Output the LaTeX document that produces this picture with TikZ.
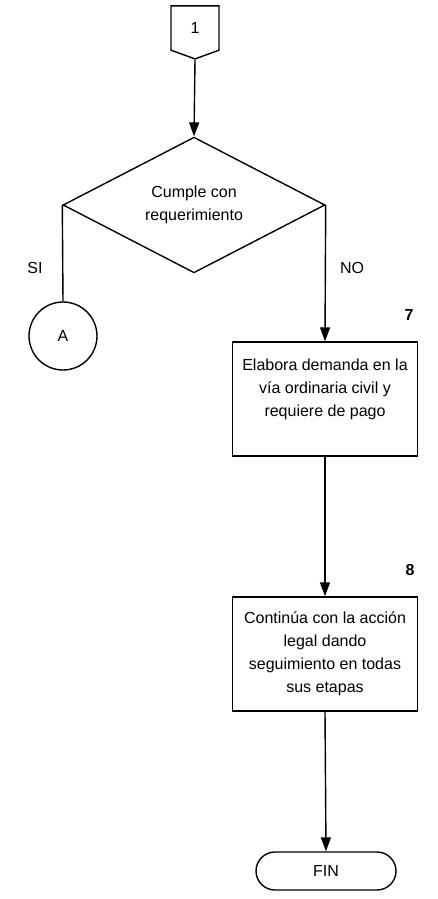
\documentclass[tikz,border=0pt]{standalone}
\usepackage{fontspec}
\setmainfont{Liberation Sans}
\usetikzlibrary{shapes.geometric,shapes.misc,shapes.symbols,arrows.meta}

\begin{document}
\begin{tikzpicture}[x=1pt,y=-1pt,
            every node/.style={font=\fontsize{16}{23}\selectfont},
            linea/.style={line width=1.4pt},
            flecha/.style={linea,-{Triangle[width=10pt,length=14pt]}},
            caja/.style={draw,linea,minimum width=185pt,minimum height=114pt,
                    align=center,inner sep=0pt},
            conector/.style={draw,linea,signal,signal to=south,signal pointer angle=140,
                    minimum width=48pt,minimum height=46pt,inner sep=0pt},
            decision/.style={draw,linea,diamond,minimum width=262pt,minimum height=114pt,
                    align=center,inner sep=0pt},
            circulo/.style={draw,linea,circle,minimum size=68pt,inner sep=0pt},
            terminal/.style={draw,linea,rounded rectangle,minimum width=140pt,
                    minimum height=38pt,inner sep=0pt},
            numero/.style={font=\fontsize{16}{19}\selectfont\bfseries}]
        \useasboundingbox (0,0) rectangle (437,899);
        \node[conector] (c1) at (195,28) {1};
        \node[decision] (cumple) at (194,205) {Cumple con\\requerimiento};
        \node (si) at (35,268) {SI};
        \node (no) at (352,268) {NO};
        \node[circulo] (a) at (63,336) {A};
        \node[numero] (n7) at (409,315) {7};
        \node[caja] (demanda) at (325,399) {Elabora demanda en la\\v\'ia ordinaria civil y\\requiere de pago\\ };
        \node[numero] (n8) at (410,570) {8};
        \node[caja] (accion) at (325,654) {Contin\'ua con la acci\'on\\legal dando\\seguimiento en todas\\sus etapas};
        \node[terminal] (fin) at (326,871) {FIN};

        \draw[flecha] (c1.south) -- (cumple.north);
        \draw[linea] (cumple.west) -- (a.north);
        \draw[flecha] (cumple.east) -- (demanda.north);
        \draw[flecha] (demanda.south) -- (accion.north);
        \draw[flecha] (accion.south) -- (fin.north);
    \end{tikzpicture}
\end{document}
